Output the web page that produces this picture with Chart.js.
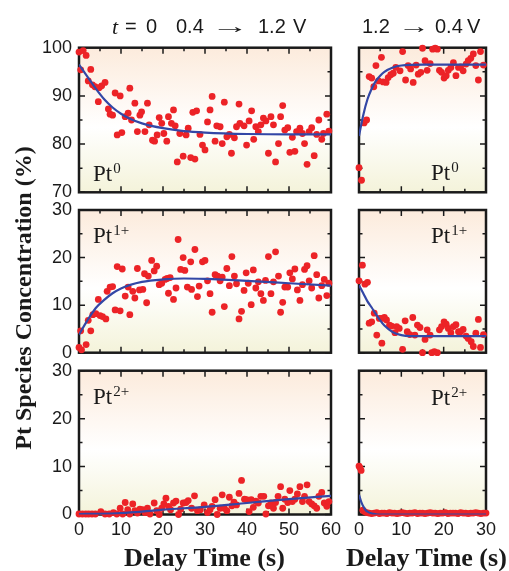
<!DOCTYPE html>
<html>
<head>
<meta charset="utf-8">
<script src="https://cdn.jsdelivr.net/npm/chart.js@4"></script>
<style>
body{margin:0;background:#fff;width:509px;height:571px;position:relative;overflow:hidden;color:#1a1a1a}
canvas{position:absolute;left:0;top:0}
.t{position:absolute;white-space:nowrap;line-height:1}
.sans{font-family:"Liberation Sans",Arial,sans-serif;font-size:20px}
.serif{font-family:"Liberation Serif","Times New Roman",serif}
.pt{font-size:23px}
.pt sup{font-size:15px;vertical-align:0;position:relative;top:-8px;margin-left:1px}
.ax{font-family:"Liberation Serif","Times New Roman",serif;font-weight:bold;font-size:26px}
</style>
</head>
<body>
<script>
// ---- data ----
// 0.4 -> 1.2 V, Pt0
var ox0T = [0,1,1.7,0.4,2.8,2.2,3.2,3.8,4.8,5.4,
  6.2,4.6,7,7.4,8,8.6,9.8,9.1,10.2,11,
  11.7,12.1,13.3,12.5,13.9,14.5,14.9,15.7,16.3,16.7,
  17.5,18,18.6,19.1,19.7,20.2,20.9,21.3,22.5,22,
  22.9,23.4,24.8,26.6,27.6,24,25.5,26,27.1,28,
  28.8,29.4,30,30.6,31.2,31.7,32.4,32.8,33.6,34.1,
  34.6,35.2,35.8,36.3,37,37.5,38.3,39.3,38.1,39.9,
  40.5,41.1,41.6,42.1,42.7,43.3,43.9,44.5,45.1,45.7,
  46.3,46.8,47.5,48,48.5,49,49.7,50.2,51.4,50.8,
  51.8,52.6,53.2,53.7,54.3,54.8,55.4,56,56.6,57.1,
  57.8,58.2,59,59.5];
var ox0V = [99.1,99.4,98.4,95.4,95.5,93.1,92.3,91.9,91.7,92.1,
  92.8,88.8,87.3,86.2,86,90.6,90,81.9,82.4,85.7,
  86.4,91.6,88.5,85,82.6,86,86.7,82.6,88.5,84,
  80.8,80.6,81.9,85.5,84.3,82.2,80.6,85.7,87.1,84.3,
  83.8,76.3,77.5,77.2,76.9,82.2,81.9,83.3,86.6,86.9,
  82,79.8,78.8,84.6,87.1,89.9,80.6,83.8,83.6,80.1,
  88.7,81.5,82,78.1,81.3,83.6,84.3,83.8,88.3,79.8,
  84.8,86.9,81,83.6,82.6,84,85.4,84.8,78.1,85.7,
  84,76.3,80.1,85.7,88,82.9,83.4,78.3,78.5,81.4,
  82.6,83.3,82.2,80.1,75.8,82.6,83.4,77.6,82,85,
  81,82.2,86.2,82.7];
var fitOx0T = [0,2,4,6,8,10,12,15,20,25,30,40,50,60];
var fitOx0V = [96.5,94,91.5,89.3,87.6,86.3,85.3,84.3,83.3,82.7,82.4,82.1,82,82];

// 0.4 -> 1.2 V, Pt1+
var ox1T = [0,0.6,1.7,0.4,2.8,2.2,3.3,4,4.6,5,
  5.6,6.4,6.7,7.4,8,8.6,9.8,9.1,10.3,11,
  11.7,12.1,12.8,13.3,13.9,14.4,15.2,15.6,16.5,16.1,
  17.3,17.9,18.5,19.1,19.7,20.5,21,21.7,21.3,22.5,
  23.1,23.6,24.2,25.2,24.8,25.8,26.8,26.6,27.6,28.2,
  28.6,29.4,30,30.6,31.2,31.7,32.4,33,33.6,34.1,
  34.6,35.2,35.8,36.4,37,37.5,38.1,38.7,39.3,39.8,
  40.3,41,41.5,42.1,42.7,43.3,43.9,44.4,45.1,45.7,
  46.3,46.8,47.5,48,48.5,49,49.7,50.2,50.8,51.4,
  52,52.6,53.2,53.7,54.3,54.8,55.4,56,56.6,57.1,
  57.8,58.4,59,59.5];
var ox1V = [1.1,0.6,1.7,4.6,4.6,6.8,8,8.2,11.2,7.8,
  7.6,7.1,12.9,13.8,13.9,9,8.8,18.1,17.6,11.9,
  13.8,8,12.9,11.5,17.7,13.2,13.3,16.6,16.1,10.5,
  19.4,17.2,18.2,14.3,14.6,15.4,15.6,15.8,12.5,11.2,
  13.6,23.8,17.5,17.3,20,13.8,13.3,19.1,21.7,11.8,
  14,19.1,19.4,15.1,12.4,8.5,16.4,16.1,15.1,15.9,
  9.7,17.7,14.1,20.2,16.1,14.5,7.1,8.7,13.1,16.8,
  14.6,10.1,17.4,13.6,14.9,12.4,11,15.2,20.2,12.4,
  14.9,21.2,16.1,8.5,10.6,13.8,13.8,16.8,15.5,17.6,
  13.2,11,14.3,17.5,18.3,15.1,13.6,20.4,16.4,11.5,
  14.1,15.4,12,14.6];
var fitOx1T = [0,2,4,6,8,10,12,15,20,25,30,40,50,60];
var fitOx1V = [3.8,6.8,9.4,11.1,12.5,13.5,14.2,14.9,15.4,15.6,15.5,15.1,14.6,14.1];

// 0.4 -> 1.2 V, Pt2+
var ox2T = [0,0.8,1.6,2.3,3.1,3.9,5.2,6.2,7.2,8.2,
  9,9.8,10.4,11,11.6,12.1,12.8,13.3,13.9,14.5,
  15.2,15.7,16.3,16.9,17.9,18.5,19.1,19.7,20.2,20.7,
  21.3,21.8,22.5,23.1,23.7,24.2,24.8,25.5,26,26.8,
  27.5,28.2,28.9,29.8,30.6,31.2,31.7,32.4,32.9,33.6,
  34.1,34.6,35.2,35.8,36.4,36.9,37.5,38.1,38.7,39.4,
  39.9,40.5,41,41.5,42.1,42.7,43.3,44,44.5,45.1,
  45.7,46.3,46.8,47.4,48,48.5,49,49.7,50.2,50.8,
  51.4,52,52.6,53.2,53.7,54.3,54.8,55.4,56,56.6,
  57.1,57.8,58.4,59,59.5];
var ox2V = [0.1,0.1,0.1,0.1,0.1,0.1,0.6,0.1,0.1,0.4,
  0.1,1.3,0.1,2.5,1,0.1,2.2,0.8,0.3,1.1,
  1,0.4,1.3,0.1,2.4,0.8,0,1.3,2.2,3.4,
  1.7,1,2.4,2.8,0,1.1,2.4,2.5,2.9,1.3,
  3.9,0.8,1,2,0.4,1,1.7,3.1,0,1.3,
  4.1,1.3,0.8,3.6,1.8,2.6,2,4.4,7.1,3.2,
  3.1,0.6,3.1,1.5,2.8,2.4,3.8,3.8,0.1,1.8,
  2.4,1.3,2.5,3.8,5.8,1.3,3.2,2.5,5,2.7,
  3.2,4.3,5.8,2.7,3.8,6.2,2.7,2.2,1.8,1.3,
  3.8,4.6,2.4,1.7,2.7];
var fitOx2T = [0,5,10,15,20,25,30,40,50,60];
var fitOx2V = [0.1,0.15,0.3,0.6,1,1.3,1.6,2.4,3.2,3.9];

// 1.2 -> 0.4 V, Pt0
var red0T = [0,0.6,1.2,1.8,2.4,3,3.5,4,4.6,5.3,
  5.7,6.4,6.9,7.5,8.1,8.7,9.7,10.3,11,11.6,
  12.2,12.8,13.5,14,14.6,15,15.6,16.1,16.8,17.4,
  18,18.5,19,19.5,20.1,20.6,21.1,21.7,22.3,22.9,
  23.5,24,24.6,25.3,25.8,26.4,27,27.6,28.2,28.7,
  29.4];
var red0V = [75.1,72.5,84.4,85,94,93.7,91.9,96.3,93.1,98,
  92.9,92.8,93.8,94.4,94.7,95.9,95.2,99.2,93.3,96.3,
  95.6,92.8,96.4,94.5,94.9,99.9,97.3,95.3,96.7,99.7,
  99.9,99.7,95.3,94.9,93.7,94.2,95.3,95.9,96.9,94.2,
  95.9,96,95.2,96.6,97.3,97.8,98.7,96.3,93.3,99.2,
  96.4];
var fitRed0T = [0,1,2,3,4,5,6,8,10,15,20,30];
var fitRed0V = [81.7,86,89.3,91.5,93.1,94.2,95,95.9,96.3,96.5,96.5,96.5];

// 1.2 -> 0.4 V, Pt1+
var red1T = [0,0.8,1.4,2,2.4,3,3.6,4.2,4.8,5.4,
  5.4,6,6.5,7.2,7.7,8.5,8.9,9.5,10.3,10.9,
  11.4,12,12.7,13.2,13.8,14.4,15,15.6,16.1,17.2,
  17.8,18.5,16.8,19,19.5,20.1,20.6,21.1,21.7,22.3,
  22.9,23.5,24,24.6,25.3,25.8,26.5,27,27.6,28.2,
  28.7,29.4];
var red1V = [15.1,18.4,14.4,14.8,6.2,6.5,8.3,3.7,7.2,7.2,
  2,7.4,6.9,5.8,5.6,4.2,5.5,5.1,0.7,6.7,
  4.4,3.8,7.4,3.7,5.8,5.3,0,2.8,4.8,0,
  0.2,0,3.7,4.8,5.5,6.5,6,5.1,4.2,5.5,
  5.9,4.4,4.4,4.9,3.5,3,2.3,1.3,4.1,7,
  1.1,3.8];
var fitRed1T = [0,1,2,3,4,5,6,8,10,12,15,20,30];
var fitRed1V = [14.2,12.5,10.8,9.5,8.1,6.8,5.7,4.3,3.7,3.5,3.5,3.5,3.5];

// 1.2 -> 0.4 V, Pt2+
var red2T = [0,0.2,0.5,0.9,1.3,1.8,2.4,3,3.6,4.2,
  4.8,5.4,6,6.6,7.2,7.8,8.4,9,9.6,10.2,
  10.8,11.4,12,12.6,13.2,13.8,14.4,15,15.6,16.2,
  16.8,17.4,18,18.6,19.2,19.8,20.4,21,21.6,22.2,
  22.8,23.4,24,24.6,25.2,25.8,26.4,27,27.6,28.2,
  28.8,29.4,30];
var red2V = [10.1,9.8,9.2,0.9,0.6,0.4,0.3,0.2,0.3,0.4,
  0.2,0.3,0.3,0.2,0.4,0.3,0.3,0.2,0.3,0.4,
  0.3,0.2,0.3,0.3,0.4,0.2,0.3,0.3,0.2,0.3,
  0.4,0.3,0.3,0.2,0.3,0.3,0.4,0.2,0.3,0.3,
  0.3,0.2,0.4,0.3,0.3,0.2,0.3,0.3,0.4,0.3,
  0.2,0.3,0.3];
var fitRed2T = [0,0.5,1,1.5,2,3,4,5,30];
var fitRed2V = [4.1,2.7,1.7,1,0.6,0.2,0.05,0,0];

var W = 509, H = 571;
var RED = '#ec2327', BLUE = '#3347a6', INK = '#1a1a1a';
var YW = 60, XH = 40;   // fixed axis box sizes so plot areas line up

function pairs(t, v) {
  return t.map(function (x, i) { return {x: x, y: v[i]}; });
}

// background gradient, frame and inward ticks
var frame = {
  id: 'frame',
  beforeDraw: function (chart) {
    var a = chart.chartArea, ctx = chart.ctx;
    var g = ctx.createLinearGradient(0, a.top, 0, a.bottom);
    g.addColorStop(0, '#fcebdc');
    g.addColorStop(0.55, '#ffffff');
    g.addColorStop(1, '#f4f3da');
    ctx.save();
    ctx.fillStyle = g;
    ctx.fillRect(a.left, a.top, a.right - a.left, a.bottom - a.top);
    ctx.restore();
  },
  beforeDatasetsDraw: function (chart) {
    var a = chart.chartArea, ctx = chart.ctx;
    var xs = chart.scales.x, ys = chart.scales.y;
    ctx.save();
    ctx.strokeStyle = INK;
    ctx.lineWidth = 1.5;
    ctx.beginPath();
    for (var v = xs.min; v <= xs.max; v += 5) {
      var px = xs.getPixelForValue(v);
      var len = (v % 10 === 0) ? 6 : 3.5;
      ctx.moveTo(px, a.bottom); ctx.lineTo(px, a.bottom - len);
      ctx.moveTo(px, a.top); ctx.lineTo(px, a.top + len);
    }
    for (var w = ys.min; w <= ys.max; w += 5) {
      var py = ys.getPixelForValue(w);
      var l2 = (w % 10 === 0) ? 6 : 3.5;
      ctx.moveTo(a.left, py); ctx.lineTo(a.left + l2, py);
      ctx.moveTo(a.right, py); ctx.lineTo(a.right - l2, py);
    }
    ctx.stroke();
    ctx.lineWidth = 2.5;
    ctx.strokeRect(a.left, a.top, a.right - a.left, a.bottom - a.top);
    ctx.restore();
  }
};

function panel(p) {
  var cv = document.createElement('canvas');
  cv.width = W; cv.height = H;
  document.body.appendChild(cv);
  var tickFont = {family: '"Liberation Sans", Arial, sans-serif', size: 18};
  new Chart(cv, {
    type: 'scatter',
    data: {
      datasets: [
        {type: 'line', data: pairs(p.fitT, p.fitV), borderColor: BLUE, borderWidth: 2.2,
         pointRadius: 0, cubicInterpolationMode: 'monotone', fill: false, order: 0},
        {data: pairs(p.t, p.v), backgroundColor: RED, borderWidth: 0,
         pointRadius: 3.4, clip: false, order: 1}
      ]
    },
    options: {
      responsive: false,
      animation: false,
      events: [],
      layout: {padding: {left: p.l - YW, top: p.top, right: W - p.r, bottom: H - p.b - XH}},
      plugins: {legend: {display: false}, tooltip: {enabled: false}},
      scales: {
        x: {
          type: 'linear', min: 0, max: p.xMax,
          grid: {display: false, drawTicks: false}, border: {display: false},
          ticks: {display: p.showX, stepSize: 10, maxRotation: 0, autoSkip: false,
                  padding: 5, color: INK, font: tickFont},
          afterFit: function (s) { s.height = XH; }
        },
        y: {
          min: p.yMin, max: p.yMax,
          grid: {display: false, drawTicks: false}, border: {display: false},
          ticks: {display: p.showY, stepSize: 10, autoSkip: false,
                  padding: 7, color: INK, font: tickFont},
          afterFit: function (s) { s.width = YW; }
        }
      }
    },
    plugins: [frame]
  });
}

var L = {l: 79, r: 331, xMax: 60};
var R = {l: 359, r: 486, xMax: 30};
var rows = [{top: 47.7, b: 192.3, yMin: 70, yMax: 100},
            {top: 210, b: 352.7, yMin: 0, yMax: 30},
            {top: 370.7, b: 514.5, yMin: 0, yMax: 30}];
var leftSets = [[ox0T, ox0V, fitOx0T, fitOx0V], [ox1T, ox1V, fitOx1T, fitOx1V], [ox2T, ox2V, fitOx2T, fitOx2V]];
var rightSets = [[red0T, red0V, fitRed0T, fitRed0V], [red1T, red1V, fitRed1T, fitRed1V], [red2T, red2V, fitRed2T, fitRed2V]];

rows.forEach(function (row, i) {
  [[L, leftSets[i], true], [R, rightSets[i], false]].forEach(function (c) {
    var col = c[0], s = c[1];
    panel({l: col.l, r: col.r, xMax: col.xMax, top: row.top, b: row.b,
           yMin: row.yMin, yMax: row.yMax, t: s[0], v: s[1], fitT: s[2], fitV: s[3],
           showX: i === 2, showY: c[2]});
  });
});

// text
function put(html, cls, x, base, size, asc) {
  var d = document.createElement('div');
  d.className = 't ' + cls;
  d.innerHTML = html;
  d.style.left = x + 'px';
  d.style.top = (base - size * asc) + 'px';
  document.body.appendChild(d);
  return d;
}
var SANS = 0.8465, SERIF = 0.8375;
var ARROW = ';transform:scaleX(1.9);transform-origin:left';
put('<span class="serif" style="font-style:italic;font-size:22px">t</span>', 'sans', 112, 33, 20, SANS);
put('=', 'sans', 125, 33, 20, SANS);
put('0', 'sans', 146, 33, 20, SANS);
put('0.4', 'sans', 176, 33, 20, SANS);
put('&rarr;', 'sans', 211, 33, 20, SANS).style.cssText += ARROW;
put('1.2', 'sans', 258, 33, 20, SANS);
put('V', 'sans', 293, 33, 20, SANS);

put('1.2', 'sans', 362, 32.5, 20, SANS);
put('&rarr;', 'sans', 398, 32.5, 20, SANS).style.cssText += ';transform:scaleX(1.6);transform-origin:left';
put('0.4', 'sans', 435, 32.5, 20, SANS);
put('V', 'sans', 467, 32.5, 20, SANS);

put('Pt<sup>0</sup>', 'serif pt', 93, 181, 23, SERIF);
put('Pt<sup>0</sup>', 'serif pt', 431, 180, 23, SERIF);
put('Pt<sup>1+</sup>', 'serif pt', 93, 243, 23, SERIF);
put('Pt<sup>1+</sup>', 'serif pt', 431, 243, 23, SERIF);
put('Pt<sup>2+</sup>', 'serif pt', 93, 404, 23, SERIF);
put('Pt<sup>2+</sup>', 'serif pt', 431, 405, 23, SERIF);

var xt1 = put('Delay Time (s)', 'ax', 0, 567, 26, SERIF);
xt1.style.left = (204.5 - xt1.offsetWidth / 2) + 'px';
var xt2 = put('Delay Time (s)', 'ax', 0, 567, 26, SERIF);
xt2.style.left = (426.5 - xt2.offsetWidth / 2) + 'px';

var yt = document.createElement('div');
yt.className = 't ax';
yt.style.fontSize = '24px';
yt.style.lineHeight = '24px';
yt.style.width = '340px';
yt.style.textAlign = 'center';
yt.style.left = (23 - 170) + 'px';
yt.style.top = (298 - 12) + 'px';
yt.style.transform = 'rotate(-90deg)';
yt.textContent = 'Pt Species Concentration (%)';
document.body.appendChild(yt);
</script>
</body>
</html>
